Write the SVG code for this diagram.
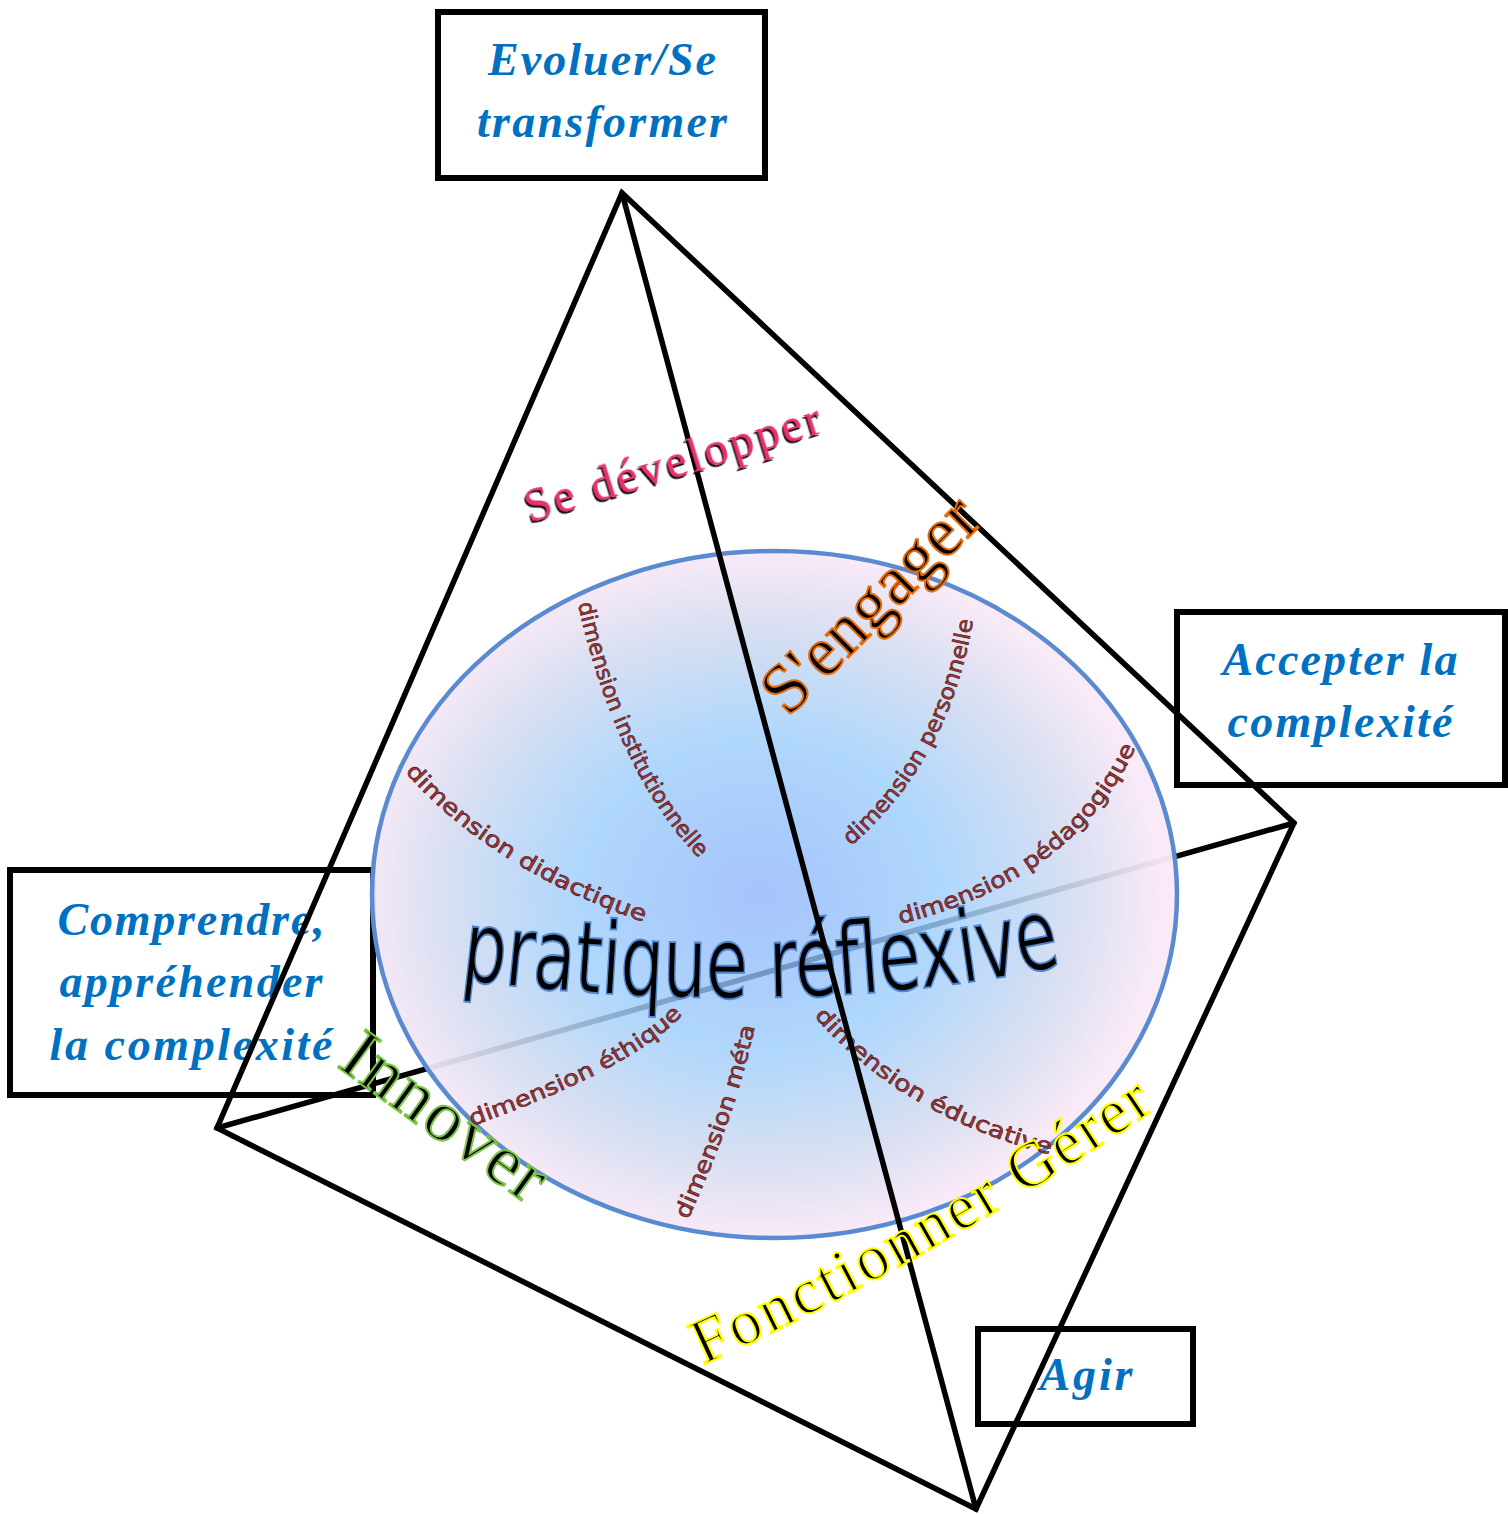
<svg xmlns="http://www.w3.org/2000/svg" width="1508" height="1514" viewBox="0 0 1508 1514">
<defs>
<radialGradient id="sphere" cx="0.48" cy="0.5" r="0.5">
<stop offset="0" stop-color="#88B0FA" stop-opacity="0.75"/>
<stop offset="0.45" stop-color="#9ECEFB" stop-opacity="0.82"/>
<stop offset="0.78" stop-color="#D4DCF0" stop-opacity="0.9"/>
<stop offset="1" stop-color="#F9E9F7" stop-opacity="0.96"/>
</radialGradient>
<filter id="shadow" x="-10%" y="-20%" width="120%" height="140%">
<feDropShadow dx="-1.8" dy="1.8" stdDeviation="0" flood-color="#000"/>
</filter>
<path id="p-inst" d="M 578 604 C 595 680 630 790 703 862"/>
<path id="p-dida" d="M 405 772 Q 490 868 638 920"/>
<path id="p-pers" d="M 851 846 Q 950 760 973 620"/>
<path id="p-peda" d="M 900 924 Q 1080 880 1140 738"/>
<path id="p-ethi" d="M 472 1126 Q 630 1070 680 1017"/>
<path id="p-meta" d="M 688 1220 Q 738 1110 755 1025"/>
<path id="p-educ" d="M 814 1016 Q 900 1115 1048 1154"/>
<path id="p-prat" d="M 460 980 Q 800 1022 1065 965"/>
<path id="p-fonc" d="M 703 1365 Q 931 1262 1160 1106"/>
</defs>
<style>
.box{fill:#fff;stroke:#000;stroke-width:6}
.bt{font-family:"Liberation Serif",serif;font-style:italic;font-weight:bold;font-size:46px;fill:#0070C0;text-anchor:middle}
.edge{stroke:#000;stroke-width:5.5;fill:none;stroke-linecap:round}
.dim{font-family:"DejaVu Sans",sans-serif;font-size:22px;fill:#A33A3A;stroke:#4a1010;stroke-width:0.6}
.lab{font-family:"Liberation Serif",serif}
</style>

<g id="node-evoluer">
<rect class="box" x="438" y="12" width="327" height="166"/>
<text class="bt" x="602" y="75" textLength="228">Evoluer/Se</text>
<text class="bt" x="602" y="137" textLength="250">transformer</text>
</g>
<g id="node-accepter">
<rect class="box" x="1177" y="612" width="328" height="173"/>
<text class="bt" x="1340" y="675" textLength="235">Accepter la</text>
<text class="bt" x="1340" y="737" textLength="225">complexité</text>
</g>
<g id="node-comprendre">
<rect class="box" x="10" y="870" width="363" height="225"/>
<text class="bt" x="191" y="935" textLength="267">Comprendre,</text>
<text class="bt" x="191" y="997" textLength="263">appréhender</text>
<text class="bt" x="191" y="1060" textLength="283">la complexité</text>
</g>
<g id="node-agir">
<rect class="box" x="978" y="1329" width="215" height="95"/>
<text class="bt" x="1086" y="1390" textLength="93">Agir</text>
</g>

<g id="back-edge">
<line class="edge" x1="217" y1="1128" x2="1294" y2="823"/>
</g>

<g id="node-pratique">
<ellipse cx="774.5" cy="894.5" rx="402.5" ry="343.5" fill="url(#sphere)" stroke="#5A8AD0" stroke-width="4.5"/>
<text class="dim"><textPath href="#p-inst" textLength="285" lengthAdjust="spacingAndGlyphs">dimension institutionnelle</textPath></text>
<text class="dim"><textPath href="#p-dida" textLength="285" lengthAdjust="spacingAndGlyphs">dimension didactique</textPath></text>
<text class="dim"><textPath href="#p-pers" textLength="262" lengthAdjust="spacingAndGlyphs">dimension personnelle</textPath></text>
<text class="dim"><textPath href="#p-peda" textLength="305" lengthAdjust="spacingAndGlyphs">dimension pédagogique</textPath></text>
<text class="dim"><textPath href="#p-ethi" textLength="240" lengthAdjust="spacingAndGlyphs">dimension éthique</textPath></text>
<text class="dim"><textPath href="#p-meta" textLength="205" lengthAdjust="spacingAndGlyphs">dimension méta</textPath></text>
<text class="dim"><textPath href="#p-educ" textLength="278" lengthAdjust="spacingAndGlyphs">dimension éducative</textPath></text>
<text font-family="DejaVu Sans, sans-serif" font-size="100" fill="#000" stroke="#4F86CC" stroke-width="2"><textPath href="#p-prat" textLength="605" lengthAdjust="spacingAndGlyphs">pratique réflexive</textPath></text>
</g>

<g id="connectors">
<path class="edge" stroke-linejoin="miter" d="M 217 1128 L 622 193 L 1294 823 L 976 1509 Z"/>
<line class="edge" x1="622" y1="193" x2="976" y2="1509"/>
</g>

<g id="labels">
<text class="lab" font-size="48" fill="#E8336E" filter="url(#shadow)" transform="translate(530 523) rotate(-17.2)" textLength="308">Se développer</text>
<text class="lab" font-size="70" fill="#000" stroke="#E46C0A" stroke-width="2" transform="translate(788 718) rotate(-45)" textLength="276">S'engager</text>
<text class="lab" font-size="72" fill="#000" stroke="#7CC447" stroke-width="2" transform="translate(336 1066) rotate(36)" textLength="236">Innover</text>
<text class="lab" font-size="64" fill="#000" stroke="#FFFF00" stroke-width="2"><textPath href="#p-fonc" textLength="520" lengthAdjust="spacing">Fonctionner Gérer</textPath></text>
</g>
</svg>
